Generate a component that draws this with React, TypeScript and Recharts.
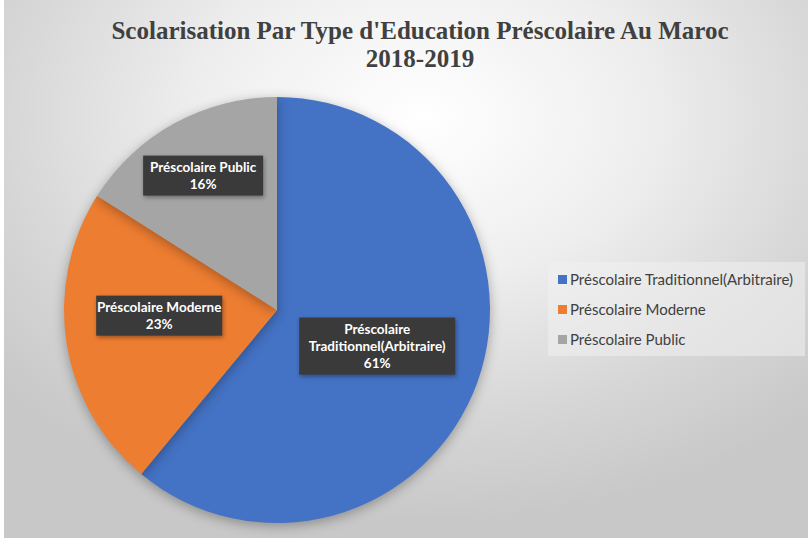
import React from 'react';
import { PieChart, Pie, Cell, Legend } from 'recharts';

const categories = [
  'Préscolaire Traditionnel(Arbitraire)',
  'Préscolaire Moderne',
  'Préscolaire Public',
];
const shares = [61, 23, 16];
// label text split over lines inside the dark boxes
const labelLines = [
  ['Préscolaire', 'Traditionnel(Arbitraire)'],
  ['Préscolaire Moderne'],
  ['Préscolaire Public'],
];

const colors = ['#4472c4', '#ed7d31', '#a5a5a5'];
const labelRadius = [0.5, 0.56, 0.72];
const labelNudgeY = [0, -13, 0];

const data = categories.map((name, i) => ({ name, value: shares[i] }));

const RAD = Math.PI / 180;

const renderLabel = (props: any) => {
  const { cx, cy, midAngle, outerRadius, index, value } = props;
  const r = outerRadius * labelRadius[index];
  const x = cx + r * Math.cos(-midAngle * RAD);
  const y = cy + r * Math.sin(-midAngle * RAD) + labelNudgeY[index];
  const lines = [...labelLines[index], `${value}%`];
  const longest = Math.max(...lines.map((l) => l.length));
  const w = longest * 6.0 + 12;
  const lh = 17;
  const h = lines.length * lh + 6;
  return (
    <g>
      <rect x={x - w / 2} y={y - h / 2} width={w} height={h} fill="#3a3a3a" style={{ filter: 'drop-shadow(1px 2px 2px rgba(0,0,0,0.35))' }} />
      {lines.map((l, i) => (
        <text
          key={i}
          x={x}
          y={y - h / 2 + 3 + lh * i + lh / 2}
          textAnchor="middle"
          dominantBaseline="central"
          fill="#ffffff"
          fontSize={13.5}
          fontWeight={700}
          fontFamily="Lato, sans-serif"
        >
          {l}
        </text>
      ))}
    </g>
  );
};

const renderLegend = (props: any) => {
  const payload = [...(props.payload || [])].sort(
    (a: any, b: any) => categories.indexOf(a.value) - categories.indexOf(b.value)
  );
  return (
    <div
      style={{
        background: 'rgba(240,240,240,0.55)',
        width: 257,
        padding: '2px 0',
        fontFamily: 'Lato, sans-serif',
        fontSize: 15,
        color: '#404040',
      }}
    >
      {payload.map((p: any, i: number) => (
        <div key={i} style={{ display: 'flex', alignItems: 'center', height: 30, paddingLeft: 10 }}>
          <span style={{ display: 'inline-block', width: 9, height: 9, background: p.color, marginRight: 3 }} />
          <span>{p.value}</span>
        </div>
      ))}
    </div>
  );
};

export default function App() {
  return (
    <div style={{ width: 808, height: 538, background: '#ffffff', position: 'absolute', left: 0, top: 0 }}>
      <style>{`.recharts-pie-sector{filter:drop-shadow(0px 3px 6px rgba(0,0,0,0.3));}`}</style>
      <div
        style={{
          position: 'absolute',
          left: 4,
          top: 0,
          width: 804,
          height: 538,
          background: 'radial-gradient(ellipse 70% 75% at 52% 22%, #ffffff 0%, #eeeeee 40%, #d6d6d6 75%, #c8c8c8 100%)',
        }}
      />
      <div
        style={{
          position: 'absolute',
          left: 0,
          top: 17,
          width: 840,
          textAlign: 'center',
          fontFamily: '"Liberation Serif", "Times New Roman", serif',
          fontWeight: 700,
          fontSize: 25,
          lineHeight: '28px',
          color: '#404040',
          zIndex: 2,
        }}
      >
        Scolarisation Par Type d'Education Préscolaire Au Maroc
        <br />
        2018-2019
      </div>
      <div style={{ position: 'absolute', left: 0, top: 0, zIndex: 1 }}>
        <PieChart width={808} height={538} margin={{ top: 0, right: 0, bottom: 0, left: 0 }}>
          <Pie
            data={data}
            dataKey="value"
            nameKey="name"
            cx={277}
            cy={310}
            outerRadius={213}
            startAngle={90}
            endAngle={-270}
            stroke="none"
            labelLine={false}
            label={renderLabel}
            isAnimationActive={false}
          >
            {data.map((d, i) => (
              <Cell key={d.name} fill={colors[i]} />
            ))}
          </Pie>
          <Legend
            layout="vertical"
            align="right"
            verticalAlign="top"
            content={renderLegend}
            wrapperStyle={{ left: 548, top: 262, width: 257 }}
          />
        </PieChart>
      </div>
    </div>
  );
}
